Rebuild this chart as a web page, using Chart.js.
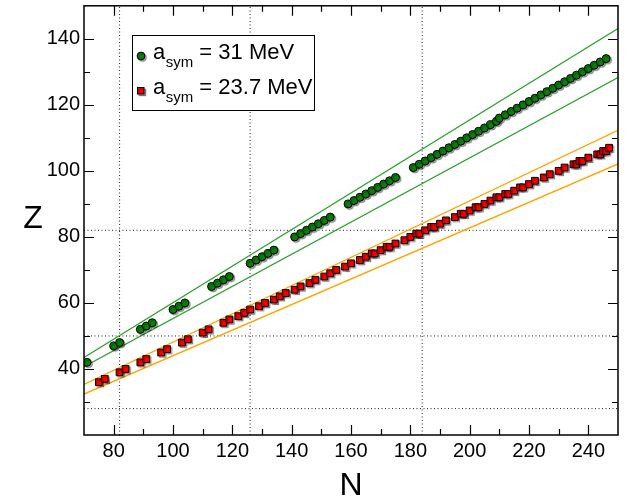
<!DOCTYPE html>
<html>
<head>
<meta charset="utf-8">
<script src="https://cdn.jsdelivr.net/npm/chart.js@4"></script>
<style>
  html, body { margin: 0; padding: 0; background: #fff; }
</style>
</head>
<body>
<canvas id="zChart" width="632" height="500"></canvas>
<script>
// a_sym = 31 MeV (green circles)
const greenN = [71, 80, 82, 89, 91, 93, 100, 102, 104, 113, 115, 117, 119, 126, 128, 130, 132, 134,
  141, 143, 145, 147, 149, 151, 153, 159, 161, 163, 165, 167, 169, 171, 173, 175,
  181, 183, 185, 187, 189, 191, 193, 195, 197, 199, 201, 203, 205, 207, 209,
  210, 212, 214, 216, 218, 220, 222, 224, 226, 228, 230, 232, 234, 236, 238, 240, 242, 244, 246];
const greenZ = [42, 47, 48, 52, 53, 54, 58, 59, 60, 65, 66, 67, 68, 72, 73, 74, 75, 76,
  80, 81, 82, 83, 84, 85, 86, 90, 91, 92, 93, 94, 95, 96, 97, 98,
  101, 102, 103, 104, 105, 106, 107, 108, 109, 110, 111, 112, 113, 114, 115,
  116, 117, 118, 119, 120, 121, 122, 123, 124, 125, 126, 127, 128, 129, 130, 131, 132, 133, 134];

// a_sym = 23.7 MeV (red squares)
const redN = [75, 77, 82, 84, 89, 91, 96, 98, 103, 105, 110, 112, 117, 119, 122, 124, 126, 129, 131, 134,
  136, 138, 141, 143, 146, 148, 151, 153, 155, 158, 160, 163, 165, 167, 168, 170, 172, 173, 175, 178,
  180, 182, 183, 185, 187, 188, 190, 192, 195, 197, 198, 200, 202, 203, 205, 207, 209, 210, 212, 213,
  215, 217, 218, 220, 222, 225, 227, 230, 232, 235, 236, 237, 238, 240, 243, 244, 245, 246, 247];
const redZ = [36, 37, 39, 40, 42, 43, 45, 46, 48, 49, 51, 52, 54, 55, 56, 57, 58, 59, 60, 61,
  62, 63, 64, 65, 66, 67, 68, 69, 70, 71, 72, 73, 74, 75, 75, 76, 77, 77, 78, 79,
  80, 81, 81, 82, 83, 83, 84, 85, 86, 87, 87, 88, 89, 89, 90, 91, 92, 92, 93, 93,
  94, 95, 95, 96, 97, 98, 99, 100, 101, 102, 102, 103, 103, 104, 105, 105, 106, 106, 107];

// band lines, ends at N = 70 and N = 250
const bandN = [70, 250];
const greenUpperZ = [43.5, 143.1];
const greenLowerZ = [40.7, 128.3];
const orangeUpperZ = [35.3, 112.3];
const orangeLowerZ = [32.4, 102.1];

// magic numbers (dotted lines)
const magicN = [82, 126, 184];
const magicZ = [28, 50, 82];

const xTicks = [80, 100, 120, 140, 160, 180, 200, 220, 240];
const yTicks = [40, 60, 80, 100, 120, 140];
const xMinor = [90, 110, 130, 150, 170, 190, 210, 230];
const yMinor = [30, 50, 70, 90, 110, 130];

const legendValues = ["31 MeV", "23.7 MeV"];

const FONT = '"Liberation Sans", Arial, sans-serif';

function pts(xs, ys) {
  return xs.map((x, i) => ({ x: x, y: ys[i] }));
}

const datasets = [
  {
    data: pts(greenN, greenZ), showLine: false, shadow: true,
    pointStyle: "circle", pointRadius: 4, pointBackgroundColor: "#0a800a",
    pointBorderColor: "#000", pointBorderWidth: 1
  },
  {
    data: pts(redN, redZ), showLine: false, shadow: true,
    pointStyle: "rect", pointRadius: 4.8, pointBackgroundColor: "#ff0000",
    pointBorderColor: "#000", pointBorderWidth: 1
  },
  { data: pts(bandN, greenUpperZ), showLine: true, borderColor: "#2ca02c", borderWidth: 1.2, pointRadius: 0 },
  { data: pts(bandN, greenLowerZ), showLine: true, borderColor: "#2ca02c", borderWidth: 1.2, pointRadius: 0 },
  { data: pts(bandN, orangeUpperZ), showLine: true, borderColor: "#ffa500", borderWidth: 1.4, pointRadius: 0 },
  { data: pts(bandN, orangeLowerZ), showLine: true, borderColor: "#ffa500", borderWidth: 1.4, pointRadius: 0 }
];
magicN.forEach(n => {
  datasets.push({ data: [{ x: n, y: 20 }, { x: n, y: 150 }], showLine: true, borderColor: "#222",
    borderWidth: 1, borderDash: [1, 2.5], pointRadius: 0 });
});
magicZ.forEach(z => {
  datasets.push({ data: [{ x: 70, y: z }, { x: 250, y: z }], showLine: true, borderColor: "#222",
    borderWidth: 1, borderDash: [1, 2.5], pointRadius: 0 });
});

// grey drop shadow behind the markers
const markerShadow = {
  id: "markerShadow",
  beforeDatasetDraw(chart, args) {
    if (chart.data.datasets[args.index].shadow) {
      const ctx = chart.ctx;
      ctx.save();
      ctx.shadowColor = "rgba(0,0,0,0.35)";
      ctx.shadowOffsetX = 1.5;
      ctx.shadowOffsetY = 1.5;
      ctx.shadowBlur = 1;
    }
  },
  afterDatasetDraw(chart, args) {
    if (chart.data.datasets[args.index].shadow) chart.ctx.restore();
  }
};

// box around the plot with inward ticks on all four sides, titles, legend
const frame = {
  id: "frame",
  afterDraw(chart) {
    const { ctx, chartArea: a, scales: { x, y } } = chart;
    ctx.save();
    ctx.strokeStyle = "#000";
    ctx.lineWidth = 1.5;
    ctx.strokeRect(a.left, a.top, a.right - a.left, a.bottom - a.top);

    ctx.lineWidth = 1.2;
    ctx.beginPath();
    const xt = (vals, len) => vals.forEach(v => {
      const px = Math.round(x.getPixelForValue(v)) + 0.5;
      ctx.moveTo(px, a.bottom); ctx.lineTo(px, a.bottom - len);
      ctx.moveTo(px, a.top); ctx.lineTo(px, a.top + len);
    });
    const yt = (vals, len) => vals.forEach(v => {
      const py = Math.round(y.getPixelForValue(v)) + 0.5;
      ctx.moveTo(a.left, py); ctx.lineTo(a.left + len, py);
      ctx.moveTo(a.right, py); ctx.lineTo(a.right - len, py);
    });
    xt(xTicks, 10); xt(xMinor, 6);
    yt(yTicks, 10); yt(yMinor, 6);
    ctx.stroke();

    // axis titles
    ctx.fillStyle = "#000";
    ctx.font = "32px " + FONT;
    ctx.textAlign = "center";
    ctx.textBaseline = "alphabetic";
    ctx.fillText("N", (a.left + a.right) / 2, 495);
    ctx.fillText("Z", 33, 228);

    // legend
    ctx.fillStyle = "#fff";
    ctx.fillRect(132.5, 35.5, 182, 75);
    ctx.lineWidth = 1;
    ctx.strokeRect(132.5, 35.5, 182, 75);

    ctx.shadowColor = "rgba(0,0,0,0.35)";
    ctx.shadowOffsetX = 1.5;
    ctx.shadowOffsetY = 1.5;
    ctx.shadowBlur = 1;
    ctx.beginPath();
    ctx.arc(141, 56, 3.9, 0, Math.PI * 2);
    ctx.fillStyle = "#0a800a";
    ctx.fill();
    ctx.stroke();
    ctx.fillStyle = "#ff0000";
    ctx.fillRect(137.5, 87.5, 6.5, 6.5);
    ctx.strokeRect(137.5, 87.5, 6.5, 6.5);
    ctx.shadowColor = "transparent";

    ctx.textAlign = "left";
    ctx.fillStyle = "#000";
    const rows = [59, 94];
    rows.forEach((base, i) => {
      let px = 153;
      ctx.font = "22px " + FONT;
      ctx.fillText("a", px, base);
      px += ctx.measureText("a").width + 0.5;
      ctx.font = "15px " + FONT;
      ctx.fillText("sym", px, base + 7.5);
      px += ctx.measureText("sym").width;
      ctx.font = "22px " + FONT;
      ctx.fillText(" = " + legendValues[i], px, base);
    });
    ctx.restore();
  }
};

new Chart(document.getElementById("zChart").getContext("2d"), {
  type: "scatter",
  data: { datasets: datasets },
  options: {
    responsive: false,
    animation: false,
    layout: { padding: { top: 4, right: 14, left: 0, bottom: 0 } },
    plugins: { legend: { display: false }, tooltip: { enabled: false } },
    scales: {
      x: {
        type: "linear", min: 70, max: 250,
        afterBuildTicks: s => { s.ticks = xTicks.map(v => ({ value: v })); },
        afterFit: s => { s.height = 65; s.paddingLeft = 0; s.paddingRight = 0; },
        grid: { display: false, drawTicks: false },
        border: { display: false },
        ticks: { color: "#000", font: { family: FONT, size: 20 }, padding: 4, maxRotation: 0 }
      },
      y: {
        type: "linear", min: 20, max: 150,
        afterBuildTicks: s => { s.ticks = yTicks.map(v => ({ value: v })); },
        afterFit: s => { s.width = 84; s.paddingTop = 0; s.paddingBottom = 0; },
        grid: { display: false, drawTicks: false },
        border: { display: false },
        ticks: { color: "#000", font: { family: FONT, size: 20 }, padding: 4 }
      }
    }
  },
  plugins: [markerShadow, frame]
});
</script>
</body>
</html>
